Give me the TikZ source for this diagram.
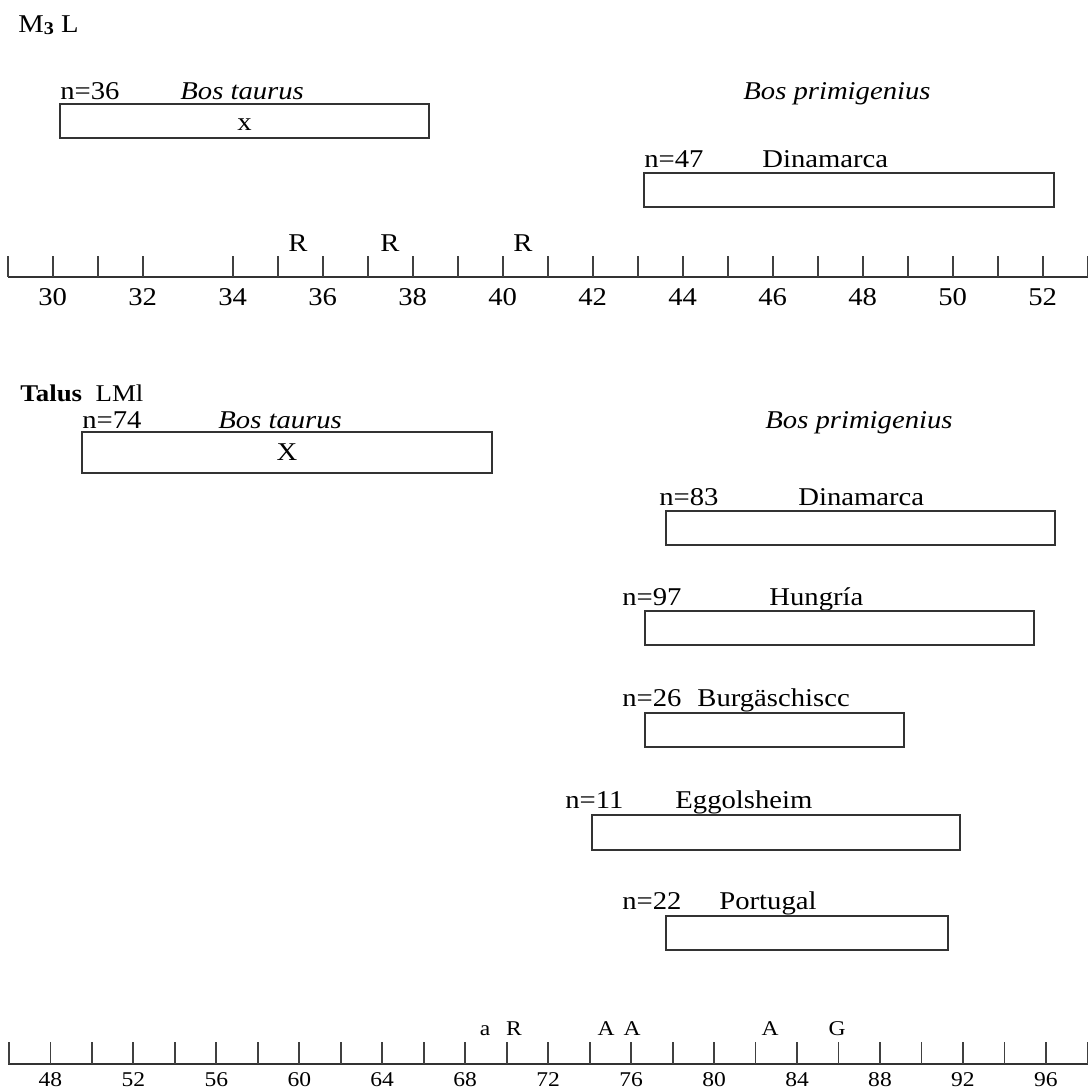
\documentclass[tikz,border=0pt]{standalone}
\usepackage{fontspec}
\setmainfont{Liberation Serif}[FakeStretch=1.12]
\usetikzlibrary{fit}
\begin{document}
\begin{tikzpicture}[x=0.5pt,y=-0.5pt,
  lbl/.style={inner sep=0pt, anchor=base west, font=\fontsize{12.8}{14}\selectfont},
  ilbl/.style={lbl, font=\fontsize{12.8}{14}\selectfont\itshape},
  mlbl/.style={inner sep=0pt, anchor=base, font=\fontsize{12.8}{14}\selectfont},
  slbl/.style={inner sep=0pt, anchor=base, font=\fontsize{10.5}{12}\selectfont},
  bar/.style={draw=black!80, line width=0.75pt, inner sep=0pt, outer sep=0pt},
  axisline/.style={draw=black!80, line width=1pt},
  tick/.style={draw=black!75, line width=0.9pt}]
\useasboundingbox (0,0) rectangle (1088,1088);

% ---------- M3 L ----------
\node[lbl] (m3l) at (18,32) {M\raisebox{-0.25ex}{\fontsize{9}{10}\selectfont\bfseries 3} L};

\node[lbl] (n36) at (60,99) {n=36};
\node[ilbl] (bt1) at (180,99) {Bos taurus};
\node[bar, fit={(60,104) (429,138)}] (box1) {};
\node[mlbl, anchor=center] (box1x) at ([yshift=-2pt]box1.center) {x};

\node[ilbl] (bp1) at (743,99) {Bos primigenius};
\node[lbl] (n47) at (644,167) {n=47};
\node[lbl] (din1) at (762,167) {Dinamarca};
\node[bar, fit={(644,173) (1054,207)}] (box2) {};

% axis 1
\coordinate (a1s) at (8,277);
\coordinate (a1e) at (1088,277);
\draw[axisline] (a1s) -- (a1e);
\foreach \v in {29,...,53} {
  \ifnum\v=33\relax\else
    \draw[tick] ({52.6+45*(\v-30)},256) -- ({52.6+45*(\v-30)},277);
  \fi
}
\foreach \v in {30,32,...,52} {
  \node[mlbl] (ta\v) at ({52.6+45*(\v-30)},305) {\v};
}
\node[mlbl] (r1) at (298,251) {R};
\node[mlbl] (r2) at (390,251) {R};
\node[mlbl] (r3) at (523,251) {R};

% ---------- Talus ----------
\node[inner sep=0pt, anchor=base west, font=\fontsize{12}{13}\selectfont] (talus) at (20,401) {\bfseries Talus\ \ \mdseries LMl};

\node[lbl] (n74) at (82,428) {n=74};
\node[ilbl] (bt2) at (218,428) {Bos taurus};
\node[bar, fit={(82,432) (492,473)}] (box3) {};
\node[mlbl, anchor=center] (box3x) at (box3.center) {X};

\node[ilbl] (bp2) at (765,428) {Bos primigenius};

\node[lbl] (n83) at (659,505) {n=83};
\node[lbl] (din2) at (798,505) {Dinamarca};
\node[bar, fit={(666,511) (1055,545)}] (box4) {};

\node[lbl] (n97) at (622,605) {n=97};
\node[lbl] (hun) at (769,605) {Hungría};
\node[bar, fit={(645,611) (1034,645)}] (box5) {};

\node[lbl] (n26) at (622,706) {n=26};
\node[lbl] (burg) at (697,706) {Burgäschiscc};
\node[bar, fit={(645,713) (904,747)}] (box6) {};

\node[lbl] (n11) at (565,808) {n=11};
\node[lbl] (egg) at (675,808) {Eggolsheim};
\node[bar, fit={(592,815) (960,850)}] (box7) {};

\node[lbl] (n22) at (622,909) {n=22};
\node[lbl] (por) at (719,909) {Portugal};
\node[bar, fit={(666,916) (948,950)}] (box8) {};

% axis 2
\coordinate (a2s) at (8,1064);
\coordinate (a2e) at (1088,1064);
\draw[axisline] (a2s) -- (a2e);
\foreach \v in {46,48,...,98} {
  \draw[tick] ({50.4+20.74*(\v-48)},1042) -- ({50.4+20.74*(\v-48)},1064);
}
\foreach \v in {48,52,...,96} {
  \node[slbl] (tb\v) at ({50.4+20.74*(\v-48)},1086) {\v};
}
\node[slbl] (la) at (485,1035) {a};
\node[slbl] (lr) at (514,1035) {R};
\node[slbl] (la1) at (606,1035) {A};
\node[slbl] (la2) at (632,1035) {A};
\node[slbl] (la3) at (770,1035) {A};
\node[slbl] (lg) at (837,1035) {G};
\end{tikzpicture}
\end{document}
